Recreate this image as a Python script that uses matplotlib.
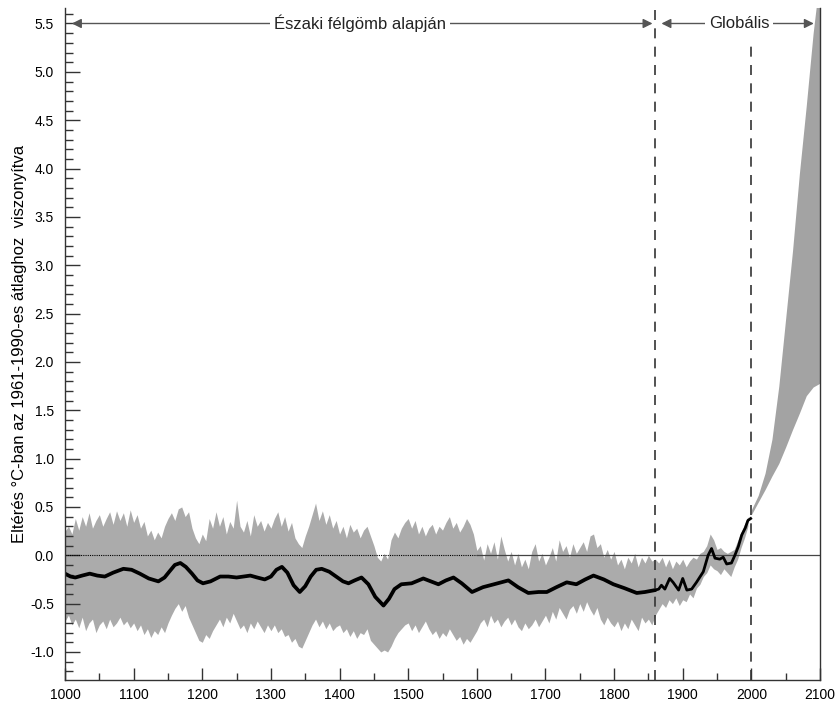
import matplotlib
matplotlib.use("Agg")
import matplotlib.pyplot as plt
from matplotlib.ticker import MultipleLocator, FormatStrFormatter
import numpy as np

plt.rcParams['font.family'] = ['Liberation Sans', 'DejaVu Sans']

# gray uncertainty band, 5-year steps 1000..1995
band_years = np.arange(1000, 2000, 5)
band_upper = [
    0.25, 0.30, 0.22, 0.38, 0.26, 0.40, 0.30, 0.44, 0.28, 0.36, 0.42, 0.30, 0.38, 0.45, 0.32, 0.46, 0.36, 0.44, 0.30, 0.47,
    0.34, 0.42, 0.28, 0.35, 0.20, 0.26, 0.16, 0.24, 0.18, 0.30, 0.38, 0.44, 0.36, 0.48, 0.50, 0.40, 0.45, 0.28, 0.18, 0.12,
    0.22, 0.15, 0.38, 0.28, 0.45, 0.30, 0.40, 0.22, 0.35, 0.28, 0.57, 0.30, 0.24, 0.36, 0.20, 0.42, 0.30, 0.36, 0.25, 0.34,
    0.28, 0.38, 0.45, 0.30, 0.40, 0.25, 0.34, 0.18, 0.12, 0.08, 0.20, 0.30, 0.42, 0.54, 0.36, 0.46, 0.32, 0.42, 0.28, 0.36,
    0.22, 0.30, 0.18, 0.32, 0.24, 0.28, 0.18, 0.26, 0.30, 0.20, 0.10, -0.02, -0.06, 0.02, -0.04, 0.16, 0.24, 0.18, 0.28, 0.34,
    0.38, 0.28, 0.36, 0.22, 0.30, 0.20, 0.28, 0.32, 0.22, 0.30, 0.26, 0.34, 0.40, 0.28, 0.34, 0.24, 0.30, 0.38, 0.32, 0.22,
    0.05, 0.10, -0.05, 0.12, 0.02, 0.14, -0.04, 0.20, 0.06, -0.06, 0.04, -0.10, 0.02, -0.12, -0.04, -0.14, 0.04, 0.12, -0.06, 0.02,
    -0.10, -0.02, 0.08, -0.06, 0.16, 0.04, 0.10, -0.02, 0.12, 0.02, 0.08, 0.14, 0.04, 0.20, 0.22, 0.08, 0.12, -0.02, 0.06, -0.04,
    0.04, -0.10, -0.04, -0.14, -0.02, -0.08, 0.02, -0.12, -0.02, -0.08, 0.00, -0.06, -0.04, -0.08, -0.02, -0.12, -0.04, -0.14, -0.06, -0.10,
    -0.04, -0.12, -0.06, -0.02, -0.04, 0.02, 0.04, 0.10, 0.22, 0.16, 0.06, 0.08, 0.04, 0.02, 0.04, 0.06, 0.15, 0.24, 0.32, 0.40,
]
band_lower = [
    -0.68, -0.62, -0.72, -0.66, -0.75, -0.64, -0.78, -0.70, -0.66, -0.80, -0.72, -0.68, -0.76, -0.66, -0.74, -0.70, -0.64, -0.72, -0.68, -0.75,
    -0.70, -0.78, -0.72, -0.82, -0.76, -0.85, -0.78, -0.82, -0.74, -0.80, -0.70, -0.62, -0.55, -0.50, -0.58, -0.52, -0.64, -0.72, -0.80, -0.88,
    -0.90, -0.82, -0.86, -0.78, -0.72, -0.66, -0.74, -0.64, -0.70, -0.60, -0.68, -0.76, -0.72, -0.80, -0.70, -0.76, -0.68, -0.74, -0.80, -0.72,
    -0.78, -0.72, -0.80, -0.76, -0.84, -0.82, -0.90, -0.86, -0.94, -0.96, -0.88, -0.80, -0.72, -0.66, -0.74, -0.68, -0.76, -0.70, -0.78, -0.74,
    -0.72, -0.80, -0.76, -0.84, -0.78, -0.86, -0.80, -0.82, -0.76, -0.88, -0.92, -0.96, -1.00, -0.98, -1.00, -0.94, -0.86, -0.80, -0.76, -0.72,
    -0.70, -0.78, -0.72, -0.80, -0.74, -0.68, -0.76, -0.82, -0.78, -0.86, -0.80, -0.84, -0.76, -0.82, -0.88, -0.84, -0.92, -0.86, -0.90, -0.84,
    -0.78, -0.70, -0.66, -0.74, -0.62, -0.70, -0.66, -0.74, -0.68, -0.64, -0.72, -0.66, -0.74, -0.78, -0.70, -0.76, -0.72, -0.66, -0.74, -0.68,
    -0.62, -0.70, -0.58, -0.66, -0.54, -0.60, -0.66, -0.56, -0.52, -0.60, -0.50, -0.58, -0.48, -0.56, -0.62, -0.54, -0.66, -0.72, -0.64, -0.70,
    -0.74, -0.68, -0.78, -0.70, -0.76, -0.66, -0.72, -0.78, -0.64, -0.70, -0.66, -0.72, -0.62, -0.56, -0.50, -0.54, -0.46, -0.50, -0.44, -0.52,
    -0.46, -0.48, -0.40, -0.44, -0.34, -0.30, -0.22, -0.18, -0.10, -0.14, -0.16, -0.20, -0.14, -0.18, -0.22, -0.12, -0.04, 0.08, 0.18, 0.30,
]

# smoothed northern hemisphere reconstruction
recon_years = [1000, 1008, 1015, 1025, 1036, 1047, 1058, 1070, 1085, 1097, 1109, 1122, 1136, 1145, 1153,
               1160, 1168, 1176, 1185, 1193, 1201, 1212, 1226, 1238, 1250, 1260, 1270, 1280, 1291, 1300,
               1308, 1316, 1324, 1333, 1342, 1350, 1358, 1366, 1374, 1385, 1395, 1405, 1413, 1422, 1432,
               1442, 1452, 1464, 1472, 1480, 1490, 1505, 1522, 1533, 1544, 1555, 1566, 1578, 1593, 1609,
               1625, 1646, 1660, 1675, 1690, 1702, 1716, 1731, 1745, 1758, 1770, 1785, 1799, 1815, 1833,
               1845, 1860]
recon_vals = [-0.19, -0.22, -0.23, -0.21, -0.19, -0.21, -0.22, -0.18, -0.14, -0.15, -0.19, -0.24, -0.27, -0.23, -0.16,
              -0.10, -0.08, -0.12, -0.19, -0.26, -0.29, -0.27, -0.22, -0.22, -0.23, -0.22, -0.21, -0.23, -0.25, -0.22,
              -0.15, -0.12, -0.18, -0.31, -0.38, -0.32, -0.22, -0.15, -0.14, -0.17, -0.22, -0.27, -0.29, -0.26, -0.23,
              -0.30, -0.43, -0.52, -0.45, -0.35, -0.30, -0.29, -0.24, -0.27, -0.30, -0.26, -0.23, -0.29, -0.38, -0.33,
              -0.30, -0.26, -0.33, -0.39, -0.38, -0.38, -0.33, -0.28, -0.30, -0.25, -0.21, -0.25, -0.30, -0.34, -0.39,
              -0.38, -0.36]

# instrumental record
instr_years = [1860, 1865, 1869, 1874, 1881, 1886, 1889, 1894, 1900, 1906, 1913, 1920, 1930, 1937, 1942,
               1947, 1954, 1959, 1964, 1971, 1976, 1981, 1986, 1991, 1995, 1999]
instr_vals = [-0.36, -0.35, -0.31, -0.35, -0.24, -0.28, -0.31, -0.36, -0.24, -0.36, -0.35, -0.28, -0.17, 0.00, 0.07,
              -0.03, -0.04, -0.02, -0.09, -0.08, 0.00, 0.09, 0.21, 0.28, 0.36, 0.38]

# projection envelope
proj_years = [2000, 2010, 2020, 2030, 2040, 2050, 2060, 2070, 2080, 2090, 2100]
proj_upper = [0.47, 0.62, 0.85, 1.20, 1.75, 2.45, 3.15, 3.95, 4.65, 5.40, 6.00]
proj_lower = [0.42, 0.55, 0.68, 0.82, 0.95, 1.12, 1.30, 1.47, 1.65, 1.74, 1.78]

y_min, y_max = -1.29, 5.66
gray = '#ababab'

fig = plt.figure(figsize=(8.38, 7.04), dpi=100)
ax = fig.add_axes([0.0776, 0.0341, 0.9009, 0.9545])

ax.fill_between(band_years, band_lower, band_upper, color=gray, lw=0)
ax.fill_between(proj_years, proj_lower, proj_upper, color='#a3a3a3', lw=0)

# zero line: dotted over the reconstruction, solid afterwards
ax.plot([1000, 1600], [0, 0], color='black', lw=0.8, ls=(0, (1, 1)))
ax.plot([1600, 2100], [0, 0], color='#444444', lw=0.9)

ax.plot(recon_years, recon_vals, color='black', lw=2.7, solid_joinstyle='round', solid_capstyle='round')
ax.plot(instr_years, instr_vals, color='black', lw=2.0, solid_joinstyle='round')

ax.plot([1860, 1860], [y_min, y_max], color='#333333', lw=1.2, ls=(0, (6, 5)))
ax.plot([2000, 2000], [y_min, 5.30], color='#333333', lw=1.2, ls=(0, (6, 5)))

# range arrows with labels
arrow_kw = dict(arrowstyle='-|>', color='#555555', lw=1.0, mutation_scale=14, shrinkA=0, shrinkB=0)
ax.annotate('', xy=(1010, 5.5), xytext=(1430, 5.5), arrowprops=arrow_kw)
ax.annotate('', xy=(1856, 5.5), xytext=(1430, 5.5), arrowprops=arrow_kw)
ax.annotate('', xy=(1869, 5.5), xytext=(1982, 5.5), arrowprops=arrow_kw)
ax.annotate('', xy=(2091, 5.5), xytext=(1982, 5.5), arrowprops=arrow_kw)
ax.text(1430, 5.5, 'Északi félgömb alapján', ha='center', va='center', fontsize=12,
        color='#222222', bbox=dict(facecolor='white', edgecolor='none', pad=3))
ax.text(1982, 5.5, 'Globális', ha='center', va='center', fontsize=12,
        color='#222222', bbox=dict(facecolor='white', edgecolor='none', pad=3))

ax.set_xlim(1000, 2100)
ax.set_ylim(y_min, y_max)
ax.xaxis.set_major_locator(MultipleLocator(100))
ax.xaxis.set_minor_locator(MultipleLocator(50))
ax.yaxis.set_major_locator(MultipleLocator(0.5))
ax.yaxis.set_minor_locator(MultipleLocator(0.1))
ax.yaxis.set_major_formatter(FormatStrFormatter('%.1f'))
ax.tick_params(axis='both', which='both', direction='in', labelsize=10, width=1.0, color='#333333')
ax.tick_params(axis='y', which='major', length=11, pad=8)
ax.tick_params(axis='y', which='minor', length=6)
ax.tick_params(axis='x', which='major', length=9, pad=6)
ax.tick_params(axis='x', which='minor', length=5)
ax.tick_params(right=False, top=False, which='both')

ax.spines['top'].set_visible(False)
for side in ['left', 'bottom', 'right']:
    ax.spines[side].set_color('#333333')
    ax.spines[side].set_linewidth(1.0)

ax.set_ylabel('Eltérés °C-ban az 1961-1990-es átlaghoz  viszonyítva', fontsize=12, labelpad=2)

fig.savefig('out.png', dpi=100)
plt.close(fig)
